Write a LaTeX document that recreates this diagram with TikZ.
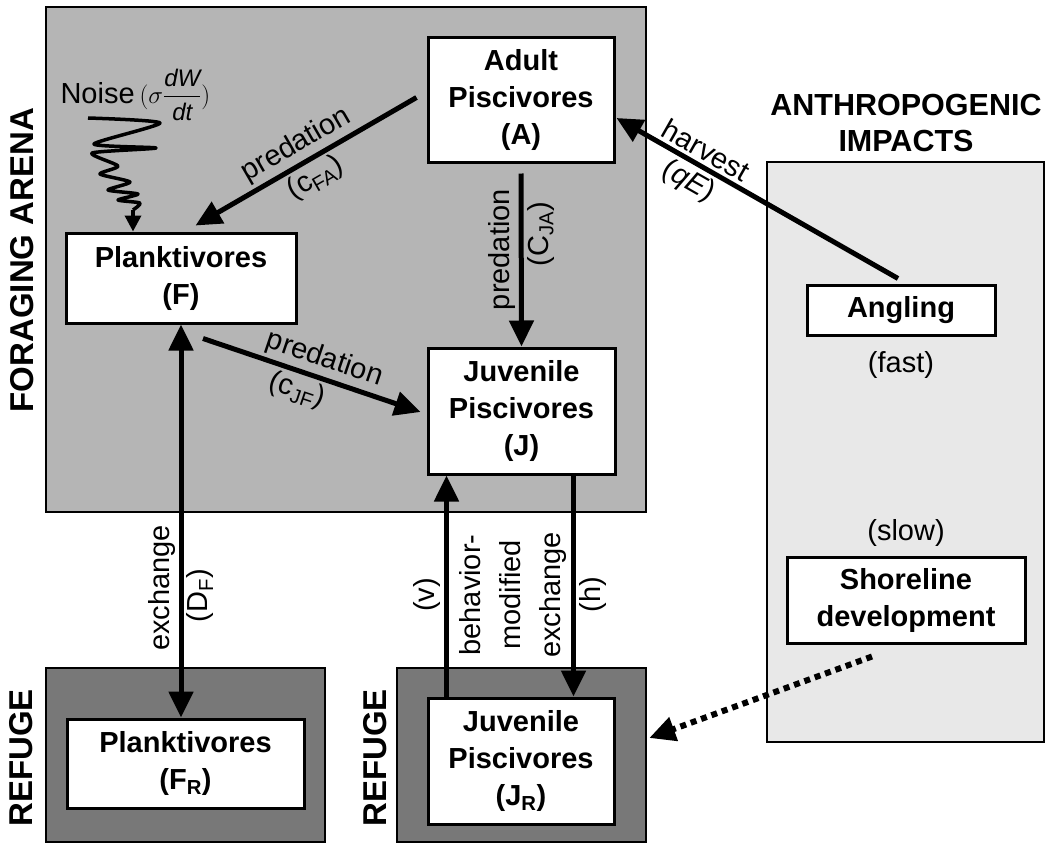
\documentclass[tikz,border=0pt]{standalone}
\usepackage{fontspec}
\setmainfont{Liberation Sans}
\usepackage{amsmath}
\usetikzlibrary{arrows.meta,calc,positioning}

\begin{document}
\begin{tikzpicture}[x=1pt,y=-1pt,>={Triangle[length=26pt,width=24pt]},every text node part/.style={align=center}]
		\tikzstyle{every node}=[font=\fontsize{29}{36}\selectfont];
		\tikzstyle{region}=[draw=black,line width=2.5pt,inner sep=0pt];
		\tikzstyle{box}=[draw=black,line width=3pt,fill=white,inner sep=0pt,font=\fontsize{29}{37}\selectfont\bfseries];
		\tikzstyle{arr}=[->,line width=5pt];
		\tikzstyle{side}=[rotate=90,font=\fontsize{33}{38}\selectfont\bfseries];
		\useasboundingbox (0,0) rectangle (1047,846);

		% regions
		\node[region,fill=gray!58,minimum width=600,minimum height=505] (arena) at (346,259.5) {};
		\node[region,fill=black!53,minimum width=279,minimum height=174] (refugeF) at (185.5,755) {};
		\node[region,fill=black!53,minimum width=249,minimum height=174] (refugeJ) at (521.5,755) {};
		\node[region,fill=black!9,minimum width=277,minimum height=580] (anthro) at (905.5,452) {};
		\node[side] (arenalbl) at (22,260) {FORAGING ARENA};
		\node[side] (refugeFlbl) at (21,758) {REFUGE};
		\node[side] (refugeJlbl) at (375,758) {REFUGE};
		\node[font=\fontsize{30.5}{36}\selectfont\bfseries] (anthrolbl) at (906,123) {ANTHROPOGENIC\\IMPACTS};

		% populations
		\node[box,minimum width=186,minimum height=125] (A) at (521,99.5) {Adult\\Piscivores\\(A)};
		\node[box,minimum width=230,minimum height=90] (F) at (181,278) {Planktivores\\(F)};
		\node[box,minimum width=187,minimum height=126] (J) at (521.5,411) {Juvenile\\Piscivores\\(J)};
		\node[box,minimum width=237,minimum height=89] (FR) at (185.5,763.5) {Planktivores\\(F\textsubscript{R})};
		\node[box,minimum width=186,minimum height=126] (JR) at (521,761) {Juvenile\\Piscivores\\(J\textsubscript{R})};
		\node[box,minimum width=188,minimum height=50] (angling) at (901,310) {Angling};
		\node[box,minimum width=238,minimum height=86] (shore) at (906,600) {Shoreline\\development};
		\node (fast) at (901,365) {(fast)};
		\node (slow) at (906,533) {(slow)};

		% noise
		\node[anchor=base west] (noise) at (57,103) {Noise\,{\fontsize{24}{24}\selectfont$(\sigma\dfrac{\mathit{dW}}{\mathit{dt}})$}};
		\coordinate (noiseend) at (133,210);
		\draw[line width=3.5pt,line join=round] plot[smooth,tension=0.4] coordinates {(88,118) (160,123) (94,144) (156,148) (92,153) (118,166) (100,174) (130,182) (108,190) (138,194) (118,200) (140,203) (noiseend)};
		\draw[->,line width=3.5pt,>={Triangle[length=16pt,width=16pt]}] (noiseend) -- ([shift={(-48,0)}]F.north);

		% predation
		\draw[arr] ([shift={(-10,-2)}]A.west) -- node[sloped,above] (predFA) {predation} node[sloped,below] (cFA) {(c\textsubscript{FA})} ([shift={(131,-6)}]F.north west);
		\draw[arr] ([shift={(0,10)}]A.south) -- node[pos=0.44,rotate=90,anchor=south] (predJA) {predation} node[pos=0.35,rotate=90,anchor=north] (cJA) {(C\textsubscript{JA})} (J.north);
		\draw[arr] ([shift={(22,14)}]F.south) -- node[pos=0.53,sloped,above] (predJF) {predation} node[pos=0.46,sloped,below] (cJF) {(c\textsubscript{JF})} ([shift={(-6,1)}]J.west);

		% harvest
		\draw[arr] ([shift={(-3,-5)}]angling.north) -- node[pos=0.71,sloped,above] (harv) {harvest} node[pos=0.71,sloped,below] (qE) {(\textit{qE})} ([shift={(1,18.5)}]A.east);

		% exchange
		\draw[<->,line width=5pt] (F.south) -- (F.south |- FR.north) node[pos=0.67,rotate=90,anchor=south] (exF) {exchange} node[pos=0.69,rotate=90,anchor=north] (DF) {(D\textsubscript{F})};
		\draw[arr] ([shift={(20,0)}]JR.north west) -- ([shift={(20,0)}]JR.north west |- J.south) node[pos=0.46,rotate=90,anchor=south] (v) {(v)};
		\draw[arr] ([shift={(-43,0)}]J.south east) -- ([shift={(-43,0)}]J.south east |- JR.north) node[pos=0.54,rotate=90,anchor=north] (h) {(h)};
		\node[rotate=90,font=\fontsize{29}{40}\selectfont] (behav) at (513,595) {behavior-\\modified\\exchange};

		% shoreline
		\draw[->,line width=6pt,dash pattern=on 6pt off 5pt] ([shift={(-34,12)}]shore.south) -- ([shift={(2,-17)}]refugeJ.east);

	\end{tikzpicture}
\end{document}
